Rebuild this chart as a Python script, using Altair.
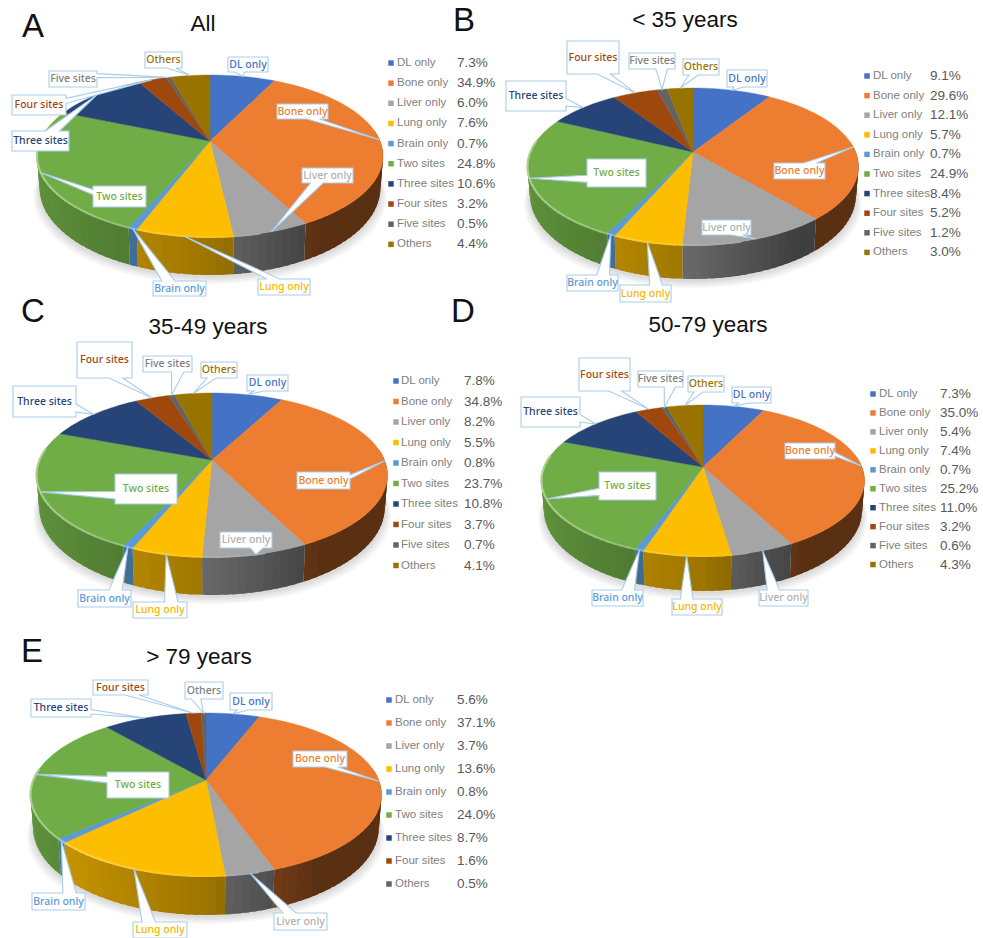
import math

import altair as alt
import pandas as pd

# Metastatic-site shares per age group, in percent.
SITES = ["DL only", "Bone only", "Liver only", "Lung only", "Brain only",
         "Two sites", "Three sites", "Four sites", "Five sites", "Others"]
SITES_E = ["DL only", "Bone only", "Liver only", "Lung only", "Brain only",
           "Two sites", "Three sites", "Four sites", "Others"]
VALUES_A = [7.3, 34.9, 6.0, 7.6, 0.7, 24.8, 10.6, 3.2, 0.5, 4.4]
VALUES_B = [9.1, 29.6, 12.1, 5.7, 0.7, 24.9, 8.4, 5.2, 1.2, 3.0]
VALUES_C = [7.8, 34.8, 8.2, 5.5, 0.8, 23.7, 10.8, 3.7, 0.7, 4.1]
VALUES_D = [7.3, 35.0, 5.4, 7.4, 0.7, 25.2, 11.0, 3.2, 0.6, 4.3]
VALUES_E = [5.6, 37.1, 3.7, 13.6, 0.8, 24.0, 8.7, 1.6, 0.5]

PALETTE = ["#4472c4", "#ed7d31", "#a5a5a5", "#fdbd00", "#5b9bd5",
           "#70ad47", "#264478", "#9e480e", "#636363", "#997300"]
TEXT_COLORS = ["#4472c4", "#ed7d31", "#b0b0b0", "#f5b800", "#5b9bd5",
               "#70ad47", "#264478", "#9e480e", "#808080", "#997300"]
CALLOUT_EDGE = "#a9cdea"
FONT = "Liberation Sans"
LABEL_FONT = "Noto Sans"

# Layout of each panel: heading, pie outline and legend column positions.
PANELS = [
    dict(letter="A", lx=33, ly=27, title="All", tx=203, ty=24,
         names=SITES, values=VALUES_A,
         cx=210, cy=141, top=75, bottom=237, left=37, right=383, depth=38,
         mark_x=391, text_x=397, value_x=457, row_y=63, row_step=20.15,
         boxes=[(228, 57, 268, 72), (277, 104, 328, 119), (302, 168, 353, 183),
                (258, 279, 310, 295), (153, 281, 206, 296), (93, 186, 146, 207),
                (12, 131, 69, 151), (12, 95, 66, 115), (49, 71, 97, 87),
                (145, 52, 182, 68)]),
    dict(letter="B", lx=464, ly=21, title="< 35 years", tx=685, ty=20,
         names=SITES, values=VALUES_B,
         cx=693, cy=152, top=88, bottom=245, left=528, right=859, depth=34,
         mark_x=867, text_x=873, value_x=930, row_y=76, row_step=19.6,
         boxes=[(727, 70, 767, 87), (774, 163, 825, 179), (702, 220, 751, 235),
                (620, 285, 671, 302), (567, 275, 618, 291), (587, 159, 646, 187),
                (506, 81, 566, 111), (567, 41, 619, 74), (629, 53, 675, 69),
                (683, 59, 719, 75)]),
    dict(letter="C", lx=33, ly=312, title="35-49 years", tx=208, ty=327,
         names=SITES, values=VALUES_C,
         cx=212, cy=460, top=393, bottom=557, left=36, right=387, depth=38,
         mark_x=396, text_x=401, value_x=464, row_y=381, row_step=20.5,
         boxes=[(247, 375, 288, 391), (297, 472, 350, 489), (220, 532, 272, 548),
                (133, 602, 187, 618), (78, 590, 131, 607), (115, 474, 177, 504),
                (13, 386, 76, 417), (77, 342, 132, 378), (143, 356, 192, 372),
                (201, 362, 237, 378)]),
    dict(letter="D", lx=463, ly=312, title="50-79 years", tx=708, ty=325,
         names=SITES, values=VALUES_D,
         cx=703, cy=467, top=405, bottom=556, left=542, right=865, depth=35,
         mark_x=873, text_x=879, value_x=940, row_y=394, row_step=18.95,
         boxes=[(732, 387, 771, 403), (785, 443, 835, 459), (759, 590, 808, 606),
                (672, 599, 722, 615), (592, 590, 643, 606), (599, 472, 656, 500),
                (521, 397, 580, 427), (579, 358, 630, 391), (638, 371, 683, 387),
                (688, 376, 724, 392)]),
    dict(letter="E", lx=32, ly=652, title="> 79 years", tx=199, ty=657,
         names=SITES_E, values=VALUES_E,
         cx=206, cy=780, top=713, bottom=876, left=30, right=381, depth=39,
         mark_x=389, text_x=395, value_x=457, row_y=700, row_step=23,
         boxes=[(230, 693, 272, 710), (293, 751, 347, 767), (274, 913, 327, 930),
                (133, 922, 187, 938), (32, 893, 85, 910), (107, 772, 169, 798),
                (31, 699, 91, 717), (93, 680, 148, 695), (185, 682, 223, 699)]),
]


def feature(kind, coords, **props):
    return {"type": "Feature",
            "geometry": {"type": kind, "coordinates": coords},
            "properties": props}


def shade(color, factor, white=0.0):
    """Scale an RGB hex colour, then blend it toward white."""
    rgb = [int(color[i:i + 2], 16) for i in (1, 3, 5)]
    out = [min(255, c * factor) for c in rgb]
    out = [c + (255 - c) * white for c in out]
    return "#%02x%02x%02x" % tuple(int(round(c)) for c in out)


class Disc:
    """Perspective view of a flat disc; angles run clockwise from the back."""

    def __init__(self, p):
        self.cx, self.cy = p["cx"], p["cy"]
        back, front = p["cy"] - p["top"], p["bottom"] - p["cy"]
        self.k = (front - back) / (front + back)
        self.s = back * (1 + self.k)
        self.r = (p["right"] - p["left"]) / 2 * math.sqrt(1 - self.k ** 2)
        self.h = p["depth"] * (1 - self.k)

    def rim(self, a):
        u, w = math.sin(a), -math.cos(a)
        den = 1 - self.k * w
        return [self.cx + self.r * u / den, self.cy + self.s * w / den]

    def foot(self, a):
        u, w = math.sin(a), -math.cos(a)
        den = 1 - self.k * w
        return [self.cx + 0.985 * self.r * u / den,
                self.cy + (self.s * w + self.h) / den]


def wall_light(u):
    # Side walls darken from the left edge to the right edge of the pie.
    if u < 0:
        return 0.62 + (0.85 - 0.62) * (-u)
    return max(0.38, 0.62 - 0.44 * u)


def callout_outline(box, tip):
    """Rectangle with a wedge running out of the side that faces the tip."""
    x0, y0, x1, y1 = box
    mx, my = (x0 + x1) / 2, (y0 + y1) / 2
    w, h = x1 - x0, y1 - y0
    dx, dy = (tip[0] - mx) / w, (tip[1] - my) / h

    def span(lo, size, toward_low):
        a, b = (1 / 6, 5 / 12) if toward_low else (7 / 12, 5 / 6)
        return lo + size * a, lo + size * b

    pts = [[x0, y0]]
    if abs(dy) >= abs(dx) and dy < 0:
        a, b = span(x0, w, dx < 0)
        pts += [[a, y0], tip, [b, y0]]
    pts.append([x1, y0])
    if abs(dx) > abs(dy) and dx > 0:
        a, b = span(y0, h, dy < 0)
        pts += [[x1, a], tip, [x1, b]]
    pts.append([x1, y1])
    if abs(dy) >= abs(dx) and dy > 0:
        a, b = span(x0, w, dx < 0)
        pts += [[b, y1], tip, [a, y1]]
    pts.append([x0, y1])
    if abs(dx) > abs(dy) and dx < 0:
        a, b = span(y0, h, dy < 0)
        pts += [[x0, b], tip, [x0, a]]
    pts.append([x0, y0])
    return pts


shadows, walls, faces, lips, callouts = [], [], [], [], []
label_rows, legend_rows, heading_rows = [], [], []
STEP = math.radians(2.5)

for p in PANELS:
    disc = Disc(p)
    total = sum(p["values"])

    ring = [math.radians(d) for d in range(0, 361, 4)]
    for grow, drop in [(1.035, 9), (1.025, 7), (1.015, 5), (1.006, 3)]:
        outline = [[disc.cx + (q[0] - disc.cx) * grow, q[1] + drop]
                   for q in (disc.foot(a) for a in ring)]
        shadows.append(feature("Polygon", [outline]))

    start = 0.0
    for i, (name, value) in enumerate(zip(p["names"], p["values"])):
        end = start + value / total * 2 * math.pi
        base = PALETTE[i]
        n = max(1, int(math.ceil((end - start) / STEP)))
        angles = [start + (end - start) * j / n for j in range(n + 1)]

        faces.append(feature(
            "Polygon",
            [[[disc.cx, disc.cy]] + [disc.rim(a) for a in angles] + [[disc.cx, disc.cy]]],
            fill=base))

        for j, (a0, a1) in enumerate(zip(angles[:-1], angles[1:])):
            mid = (a0 + a1) / 2
            if -math.cos(mid) < -0.15:
                continue
            u = math.sin(mid)
            # Each strip runs under its neighbour so no background shows at the joins.
            lap = a1 + (a1 - a0) * 0.6 if j < n - 1 else a1
            walls.append(feature(
                "Polygon",
                [[disc.rim(a0), disc.rim(lap), disc.foot(lap), disc.foot(a0), disc.rim(a0)]],
                fill=shade(base, wall_light(u))))
            glow = max(0.0, min(1.0, (0.3 - u) / 1.3)) * 0.42
            if glow > 0.02:
                lips.append(feature("LineString", [disc.rim(a0), disc.rim(a1)],
                                    stroke=shade(base, 1.0, glow)))

        box = p["boxes"][i]
        tip = disc.rim((start + end) / 2)
        callouts.append(feature("Polygon", [callout_outline(box, tip)]))
        label_rows.append(dict(x=(box[0] + box[2]) / 2, y=(box[1] + box[3]) / 2,
                               label=name, color=TEXT_COLORS[i]))

        row_y = p["row_y"] + i * p["row_step"]
        legend_rows.append(dict(mx=p["mark_x"], tx=p["text_x"], vx=p["value_x"], y=row_y,
                                name=name, value=f"{value:.1f}%", color=base))
        start = end

    heading_rows.append(dict(x=p["lx"], y=p["ly"], text=p["letter"], size=33))
    heading_rows.append(dict(x=p["tx"], y=p["ty"], text=p["title"], size=22.5))


def pixel(field):
    return alt.X(f"{field}:Q", scale=None, axis=None)


def pixel_y(field):
    return alt.Y(f"{field}:Q", scale=None, axis=None)


def geo(features, **mark):
    return alt.Chart(alt.Data(values=features)).mark_geoshape(**mark).project(
        type="identity", scale=1, translate=[0, 0])


fill_field = alt.Fill("properties.fill:N", scale=None)
shadow_layer = geo(shadows, fill="#000000", opacity=0.035, strokeWidth=0)
wall_layer = geo(walls, strokeWidth=0).encode(fill=fill_field)
face_layer = geo(faces, strokeWidth=0.4).encode(
    fill=fill_field, stroke=alt.Stroke("properties.fill:N", scale=None))
lip_layer = geo(lips, filled=False, strokeWidth=2, strokeCap="round").encode(
    stroke=alt.Stroke("properties.stroke:N", scale=None))
callout_layer = geo(callouts, fill="#ffffff", stroke=CALLOUT_EDGE, strokeWidth=1.1)

labels = pd.DataFrame(label_rows)
label_layer = alt.Chart(labels).mark_text(
    font=LABEL_FONT, fontSize=10.5, fontWeight=500, baseline="middle", align="center"
).encode(x=pixel("x"), y=pixel_y("y"), text="label:N",
         color=alt.Color("color:N", scale=None))

legend = pd.DataFrame(legend_rows)
swatch_layer = alt.Chart(legend).mark_square(size=30, opacity=1).encode(
    x=pixel("mx"), y=pixel_y("y"), color=alt.Color("color:N", scale=None))
name_layer = alt.Chart(legend).mark_text(
    font=FONT, fontSize=11.5, align="left", baseline="middle", color="#808080"
).encode(x=pixel("tx"), y=pixel_y("y"), text="name:N")
value_layer = alt.Chart(legend).mark_text(
    font=FONT, fontSize=13.5, align="left", baseline="middle", color="#595959"
).encode(x=pixel("vx"), y=pixel_y("y"), text="value:N")

headings = pd.DataFrame(heading_rows)
heading_layer = alt.Chart(headings).mark_text(
    font=FONT, align="center", baseline="middle", color="#111111"
).encode(x=pixel("x"), y=pixel_y("y"), text="text:N",
         size=alt.Size("size:Q", scale=None))

chart = alt.layer(
    shadow_layer, wall_layer, face_layer, lip_layer, callout_layer,
    label_layer, swatch_layer, name_layer, value_layer, heading_layer,
).properties(
    width=983, height=938, padding=0,
    autosize=alt.AutoSizeParams(type="none"), background="#ffffff",
).configure_view(stroke=None)

chart.save("out.html", embed_options={"renderer": "svg", "actions": False})
